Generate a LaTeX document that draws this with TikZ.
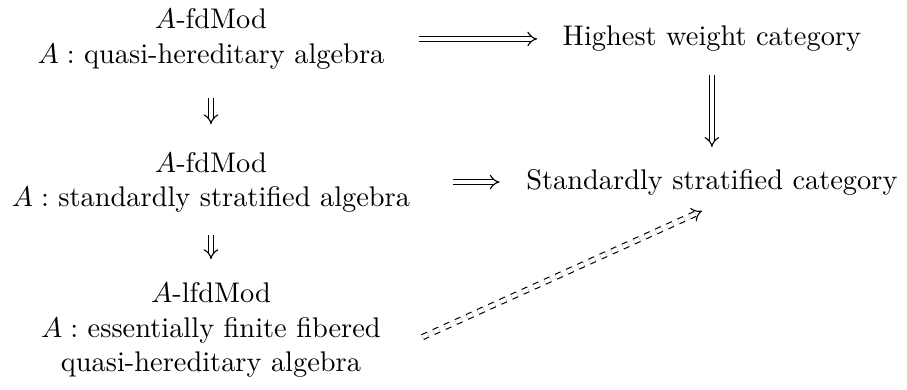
\documentclass[tikz,border=0pt]{standalone}
\usetikzlibrary{arrows.meta}
\begin{document}
\begin{tikzpicture}[x=1pt,y=1pt,
  cell/.style={inner sep=0pt, align=center},
  imp/.style={double, double distance=1.4pt, line width=0.4pt, -{Implies}},
  dimp/.style={imp, dash pattern=on 2.15pt off 2.15pt}]
\useasboundingbox (0,0) rectangle (319.4,-137.0);
\node[cell] (L1) at (74.3,-13.7) {$A$-fdMod\\$A:$ quasi-hereditary algebra};
\node[cell] (L2) at (74.3,-64.1) {$A$-fdMod\\$A:$ standardly stratified algebra};
\node[cell] (L3) at (74.3,-116.2) {$A$-lfdMod\\$A:$ essentially finite fibered\\quasi-hereditary algebra};
\node[cell] (R1) at (250.7,-13.7) {Highest weight category};
\node[cell] (R2) at (250.7,-64.1) {Standardly stratified category};
\draw[imp, shorten <=12pt, shorten >=8.8pt] (L1.east) -- (R1.west);
\draw[imp, shorten <=14.8pt, shorten >=9.2pt] (L2.east) -- (R2.west);
\draw[imp, shorten <=10pt, shorten >=9.6pt] (L1.south) -- (L2.north);
\draw[imp, shorten <=7.9pt, shorten >=8.2pt] (L2.south) -- (L3.north);
\draw[imp, shorten <=8pt, shorten >=7.6pt] (R1.south) -- (R2.north);
\draw[dimp] ([shift={(14.5,-2.5)}]L3.east) -- ([shift={(-3.5,-14.9)}]R2.north);
\end{tikzpicture}
\end{document}
